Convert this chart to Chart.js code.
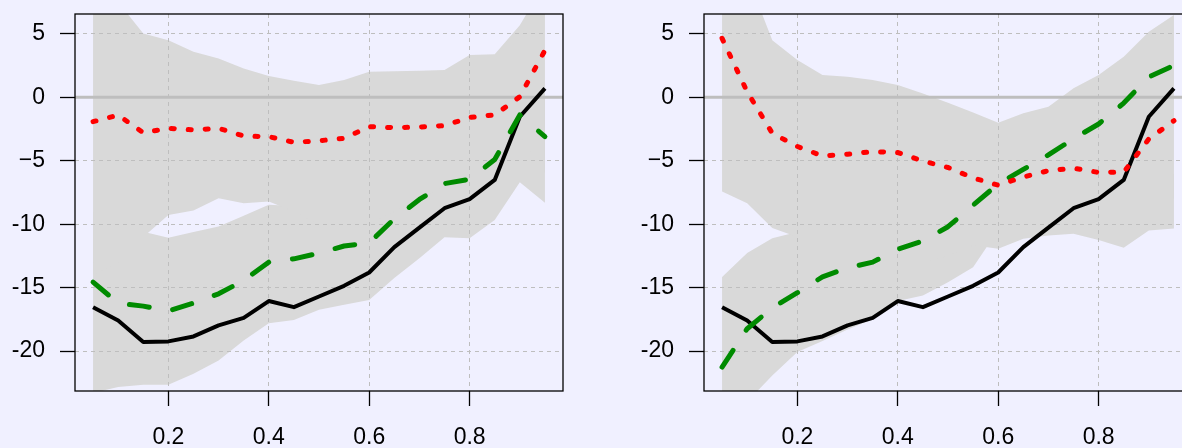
<!DOCTYPE html>
<html>
<head>
<meta charset="utf-8">
<script src="https://cdn.jsdelivr.net/npm/chart.js@4.4.1/dist/chart.umd.min.js"></script>
<style>
  html, body { margin: 0; padding: 0; background: #F0F0FF; overflow: hidden; width: 1182px; height: 448px; }
  canvas { position: absolute; top: 0; }
  #left { left: 0; }
  #right { left: 629px; }
</style>
</head>
<body>
<canvas id="left" width="590" height="448"></canvas>
<canvas id="right" width="590" height="448"></canvas>
<script>
const xs = [0.05, 0.1, 0.15, 0.2, 0.25, 0.3, 0.35, 0.4, 0.45, 0.5, 0.55, 0.6, 0.65, 0.7, 0.75, 0.8, 0.85, 0.9, 0.95];

const xTicks = [0.2, 0.4, 0.6, 0.8];
const xTickLabels = ['0.2', '0.4', '0.6', '0.8'];
const yTicks = [-20, -15, -10, -5, 0, 5];
const yTickLabels = ['-20', '-15', '-10', '\u22125', '0', '5'];

// solid black line, same in both panels
const black = [-16.54, -17.6, -19.29, -19.24, -18.85, -17.98, -17.38, -16.06, -16.54, -15.7, -14.86, -13.81, -11.81, -10.27, -8.74, -8.03, -6.51, -1.53, 0.71];

// left panel
const greenL = [-14.57, -16.22, -16.46, -16.85, -16.22, -15.49, -14.44, -12.99, -12.73, -12.28, -11.72, -11.47, -9.58, -8.05, -6.8, -6.46, -4.9, -1.39, -3.1];
const redL = [-1.92, -1.4, -2.79, -2.44, -2.57, -2.44, -3.05, -3.1, -3.55, -3.42, -3.23, -2.31, -2.39, -2.34, -2.23, -1.58, -1.39, 0.05, 3.7];
const bandL_hiUp = [7.8, 7.5, 5.04, 4.51, 3.59, 3.07, 2.28, 1.68, 1.31, 0.97, 1.36, 2.02, 2.05, 2.1, 2.15, 3.33, 3.39, 5.69, 9];
const bandL_hiLo = [-14, -13, -11.0, -9.27, -8.93, -7.95, -8.35, -8.21, -9.0, -10, -10, -10, -9, -8, -7, -6, -5, -3, -6];
const bandL_loUp = [-9, -9.5, -10.6, -11.06, -10.62, -10.19, -9.33, -8.46, -8.56, -5, -5, -5, -5, -4, -3, -2, -1, 0, 0];
const bandL_loLo = [-23.3, -22.83, -22.65, -22.65, -21.79, -20.74, -19.17, -17.8, -17.55, -16.75, -16.35, -15.98, -14.25, -12.68, -11.02, -11.1, -9.66, -6.69, -8.3];

// right panel
const greenR = [-21.26, -18.24, -16.6, -15.4, -14.15, -13.44, -12.99, -11.98, -11.32, -10.2, -8.5, -6.83, -5.68, -4.54, -3.26, -2.1, -0.45, 1.6, 2.52];
const redR = [4.65, 0.44, -2.83, -3.87, -4.62, -4.49, -4.28, -4.35, -5.02, -5.53, -6.35, -6.93, -6.28, -5.78, -5.59, -5.92, -5.9, -3.28, -1.84];
const bandR_hiUp = [10, 9.6, 4.5, 2.94, 1.76, 1.62, 1.36, 0.97, 0.3, -0.43, -1.19, -2.0, -1.26, -0.74, 0.71, 1.76, 3.2, 5.17, 6.5];
const bandR_hiLo = [-7.43, -8.35, -10.3, -11.0, -13, -13, -13, -13, -13, -12.5, -11.66, -11.94, -11.15, -10.9, -10.76, -11.25, -11.85, -10.5, -10.33];
const bandR_loUp = [-14.17, -12.28, -11.1, -10.62, -8, -7, -6, -6, -6, -6, -6, -6, -6, -6, -6, -6, -6, -6, -6];
const bandR_loLo = [-25, -24, -21.92, -20.08, -19.2, -18.3, -17.5, -16.06, -15.62, -14.57, -13.39, -10.46, -9, -8, -8, -8, -8, -8, -8];

const BAND = '#D9D9D9';

Chart.defaults.font.family = "'Liberation Sans', Arial, sans-serif";
Chart.defaults.font.size = 23;
Chart.defaults.color = '#000000';

const pts = arr => arr.map((v, i) => ({ x: xs[i], y: v }));

// zero line under the curves, box around the plot
const frame = {
  id: 'frame',
  beforeDatasetsDraw(chart) {
    const { ctx, chartArea: a, scales: { y } } = chart;
    const y0 = y.getPixelForValue(0);
    ctx.save();
    ctx.strokeStyle = '#BEBEBE';
    ctx.lineWidth = 3;
    ctx.beginPath();
    ctx.moveTo(a.left, y0);
    ctx.lineTo(a.right, y0);
    ctx.stroke();
    ctx.restore();
  },
  afterDraw(chart) {
    const { ctx, chartArea: a } = chart;
    ctx.save();
    ctx.strokeStyle = '#000';
    ctx.lineWidth = 1.3;
    ctx.strokeRect(a.left, a.top, a.right - a.left, a.bottom - a.top);
    ctx.restore();
  }
};

function bandSet(data, fill) {
  return {
    data: pts(data),
    borderColor: 'rgba(0,0,0,0)',
    borderWidth: 0,
    backgroundColor: BAND,
    pointRadius: 0,
    fill: fill
  };
}

function makeChart(id, red, green, hiUp, hiLo, loUp, loLo) {
  const ctx = document.getElementById(id).getContext('2d');
  return new Chart(ctx, {
    type: 'line',
    data: {
      datasets: [
        { data: pts(red), borderColor: '#FF0000', borderWidth: 5, borderDash: [3, 14],
          borderCapStyle: 'round', pointRadius: 0, fill: false },
        { data: pts(green), borderColor: '#008B00', borderWidth: 5, borderDash: [20, 24],
          borderCapStyle: 'round', borderJoinStyle: 'round', pointRadius: 0, fill: false },
        { data: pts(black), borderColor: '#000000', borderWidth: 4,
          borderJoinStyle: 'round', pointRadius: 0, fill: false },
        bandSet(hiUp, '+1'),
        bandSet(hiLo, false),
        bandSet(loUp, '+1'),
        bandSet(loLo, false)
      ]
    },
    options: {
      responsive: false,
      animation: false,
      layout: { padding: { left: 0, top: 14, right: 27, bottom: 0 } },
      plugins: {
        legend: { display: false },
        tooltip: { enabled: false },
        filler: { drawTime: 'beforeDraw' }
      },
      scales: {
        x: {
          type: 'linear',
          min: 0.014,
          max: 0.986,
          afterBuildTicks: s => { s.ticks = xTicks.map(v => ({ value: v })); },
          afterFit: s => { s.height = 57; s.paddingLeft = 0; s.paddingRight = 0; },
          grid: { color: '#BEBEBE', lineWidth: 1, tickLength: 15, tickColor: '#000', tickWidth: 1.3, tickBorderDash: [] },
          border: { display: false, dash: [4, 4] },
          ticks: { padding: 18, maxRotation: 0, autoSkip: false, callback: (v, i) => xTickLabels[i] }
        },
        y: {
          type: 'linear',
          min: -23.15,
          max: 6.57,
          afterBuildTicks: s => { s.ticks = yTicks.map(v => ({ value: v })); },
          afterFit: s => { s.width = 75; s.paddingTop = 0; s.paddingBottom = 0; },
          grid: { color: '#BEBEBE', lineWidth: 1, tickLength: 15, tickColor: '#000', tickWidth: 1.3, tickBorderDash: [] },
          border: { display: false, dash: [4, 4] },
          ticks: { padding: 15, autoSkip: false, callback: (v, i) => yTickLabels[i] }
        }
      }
    },
    plugins: [frame]
  });
}

makeChart('left', redL, greenL, bandL_hiUp, bandL_hiLo, bandL_loUp, bandL_loLo);
makeChart('right', redR, greenR, bandR_hiUp, bandR_hiLo, bandR_loUp, bandR_loLo);
</script>
</body>
</html>
